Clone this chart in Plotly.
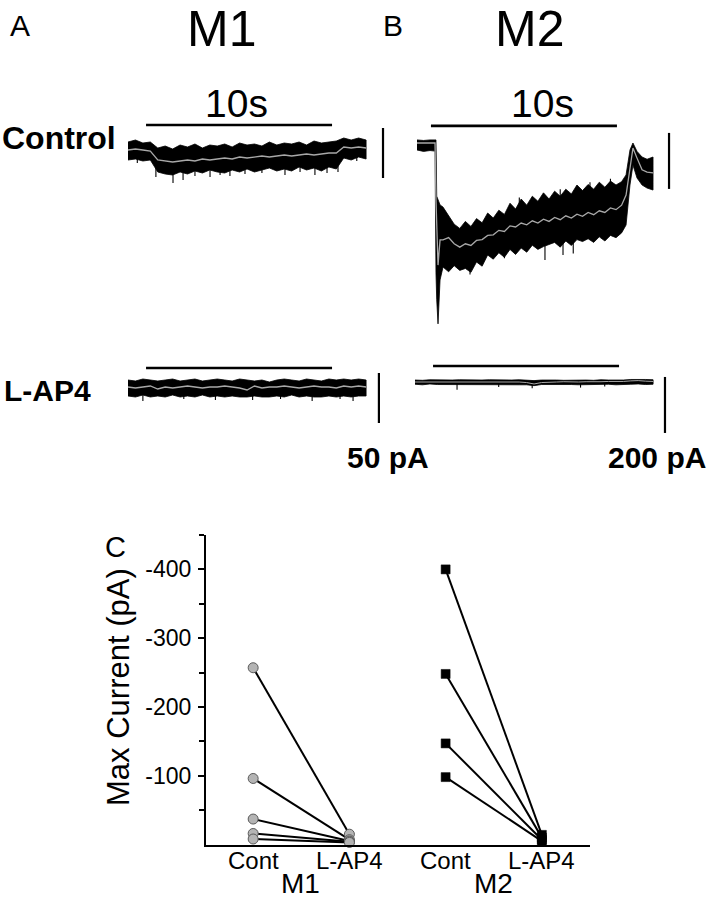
import plotly.graph_objects as go

W, H = 707, 900
FONT = "Liberation Sans, Arial, sans-serif"

# ---------------- Panel C data ----------------
categories = ["Cont", "L-AP4", "Cont", "L-AP4"]
cat_pos = [0, 1, 2, 3]
group_labels = ["M1", "M2"]
m1_cont = [-257, -96, -37, -16, -8]
m1_lap4 = [-15, -7, -5, -4, -3]
m2_cont = [-400, -248, -147, -98]
m2_lap4 = [-14, -10, -7, -5]
y_ticks = [-400, -300, -200, -100]
y_minor = [-450, -350, -250, -150, -50]

# ---------------- Trace data (time s, current pA) ----------------
grid_t = [0.0, 0.4, 0.8, 1.2, 1.6, 2.0, 2.4, 2.8, 3.2, 3.6, 4.0, 4.4, 4.8, 5.2, 5.6, 6.0,
          6.4, 6.8, 7.2, 7.6, 8.0, 8.4, 8.8, 9.2, 9.6, 10.0, 10.4, 10.8, 11.2, 11.6, 12.0,
          12.4, 12.8]

m1_ctrl_mean = [0, 1, 0, -1, -10, -11, -12, -11, -10, -11, -9, -10, -9, -8, -9, -7, -8, -7,
                -6, -7, -6, -5, -6, -5, -4, -5, -4, -3, -3, 3, 2, 3, 2]
m1_ctrl_up = [8, 10, 7, 8, 2, 4, 1, 5, 3, 6, 2, 5, 4, 6, 3, 7, 5, 6, 4, 8, 5, 7, 6, 8, 5, 9,
              7, 8, 9, 12, 10, 12, 10]
m1_ctrl_lo = [-10, -9, -11, -10, -22, -24, -25, -22, -24, -21, -23, -20, -22, -23, -20, -22,
              -19, -22, -20, -18, -21, -19, -21, -17, -20, -18, -21, -17, -19, -8, -10, -7, -9]
# noise spikes: time, top, bottom
m1_ctrl_spk_t = [0.5, 1.5, 2.42, 2.96, 3.6, 4.41, 4.95, 5.48, 6.29, 7.2, 8.44, 9.25, 10.05,
                 10.7, 11.29, 12.3]
m1_ctrl_spk_top = [-8, -18, -20, -20, -18, -18, -18, -18, -16, -16, -16, -15, -15, -14, -14, -6]
m1_ctrl_spk_bot = [-13, -27, -33, -30, -26, -27, -25, -26, -24, -23, -25, -22, -25, -23, -22, -11]

m1_lap4_mean = [0, -1, 0, 1, -2, 0, -1, 0, 1, 0, -1, 0, 0, 1, 0, -1, -3, 1, -1, 0, 0, 1, 0,
                -1, 0, 1, 0, 0, -1, 1, 0, 1, 0]
m1_lap4_up = [7, 6, 8, 7, 6, 7, 8, 6, 7, 8, 6, 7, 8, 7, 6, 8, 7, 6, 7, 5, 7, 8, 7, 6, 8, 7,
              6, 8, 7, 8, 7, 8, 7]
m1_lap4_lo = [-9, -10, -8, -10, -9, -10, -8, -10, -9, -10, -8, -10, -9, -10, -9, -10, -10,
              -9, -10, -10, -9, -10, -8, -10, -9, -10, -10, -9, -10, -9, -10, -9, -9]
m1_lap4_spk_t = [0.8, 3.0, 4.7, 6.7, 8.2, 9.9, 11.4, 12.1]
m1_lap4_spk_top = [-6, -6, -6, -6, -6, -6, -6, -6]
m1_lap4_spk_bot = [-14, -12, -13, -13, -12, -14, -12, -14]

m2_ctrl_t = [0.0, 0.35, 0.7, 0.97, 1.02, 1.06, 1.13, 1.24,
             1.4, 1.7, 2.0, 2.3, 2.6, 2.9, 3.2, 3.5, 3.8, 4.1, 4.4, 4.7, 5.0, 5.3, 5.6, 5.9,
             6.2, 6.5, 6.8, 7.1, 7.4, 7.7, 8.0, 8.3, 8.6, 8.9, 9.2, 9.5, 9.8, 10.1, 10.4,
             10.7, 11.0,
             11.24, 11.45, 11.61, 11.83, 12.1, 12.37, 12.69]
m2_ctrl_up = [11, 9, 11, 11, 11, -190, -204, -221,
              -229, -262, -290, -305, -280, -298, -270, -285, -250, -268, -240, -255, -215,
              -236, -200, -222, -190, -208, -178, -200, -172, -190, -165, -182, -150, -170,
              -148, -165, -140, -158, -136, -150, -138,
              -114, -25, 0, -30, -50, -58, -50]
m2_ctrl_lo = [-25, -30, -27, -29, -464, -560, -646, -489,
              -443, -460, -438, -455, -448, -462, -425, -440, -400, -415, -392, -408, -380,
              -398, -375, -390, -365, -380, -370, -362, -355, -372, -350, -366, -345, -352,
              -342, -355, -335, -350, -330, -338, -321,
              -293, -150, -79, -125, -150, -161, -168]
m2_ctrl_mean = [0, 0, 0, 0, -204, -330, -436, -346,
                -346, -338, -360, -372, -360, -366, -348, -345, -330, -328, -312, -316, -296,
                -300, -286, -292, -278, -286, -272, -280, -266, -274, -260, -268, -254, -262,
                -248, -256, -242, -248, -232, -238, -222,
                -186, -79, -18, -54, -96, -104, -107]
m2_ctrl_spk_t = [2.85, 4.7, 6.88, 7.85, 8.4, 5.5, 7.7, 9.3, 10.4]
m2_ctrl_spk_top = [-420, -380, -350, -340, -330, -230, -200, -180, -170]
m2_ctrl_spk_bot = [-470, -412, -418, -400, -395, -195, -165, -140, -128]

m2_lap4_mean = [0, 0, 1, 0, 0, -1, -1, 0, 0, 1, 0, 0, -1, 0, 0, -2, -7, -2, 0, 0, 1, 0, 0, 1,
                0, 1, 2, 1, 2, 4, 5, 3, 2]
m2_lap4_up = [7, 6, 8, 7, 6, 7, 8, 7, 6, 7, 8, 7, 6, 7, 8, 7, 5, 7, 8, 7, 6, 7, 8, 7, 6, 8,
              7, 6, 7, 9, 10, 9, 8]
m2_lap4_lo = [-8, -10, -7, -9, -8, -9, -10, -9, -8, -10, -9, -8, -9, -10, -10, -10, -13,
              -9, -9, -10, -9, -9, -10, -10, -9, -9, -8, -10, -9, -8, -7, -9, -8]
m2_lap4_spk_t = [2.26, 4.5, 6.3, 8.9, 10.2]
m2_lap4_spk_top = [-5, -5, -5, -5, -5]
m2_lap4_spk_bot = [-28, -18, -22, -20, -16]

# stimulus bars (start s, level pA) - 10 s long; scale bars (time s, top pA, length pA)
stim_len = 10
m1_ctrl_bar = (0.97, 25)
m1_lap4_bar = (0.97, 19)
m2_ctrl_bar = (0.75, 61)
m2_lap4_bar = (0.97, 57)
m1_scale = (13.71, 22, 50)
m1_lap4_scale = (13.49, 14, 50)
m2_scale = (13.55, 36, 200)
m2_lap4_scale = (13.44, 18, 200)

fig = go.Figure()


def panel(idx, box, origin, scale):
    L, R, T, B = box
    x0, y0 = origin
    sx, sy = scale
    fig.update_layout({
        f"xaxis{idx}": dict(domain=[L / W, R / W], range=[(L - x0) / sx, (R - x0) / sx],
                            visible=False, anchor=f"y{idx}"),
        f"yaxis{idx}": dict(domain=[1 - B / H, 1 - T / H], range=[(y0 - B) / sy, (y0 - T) / sy],
                            visible=False, anchor=f"x{idx}"),
    })


def recording(idx, t, up, lo, mean, spikes, bar, sbar, thin=False):
    xa, ya = f"x{idx}", f"y{idx}"
    fig.add_trace(go.Scatter(x=list(t) + list(t)[::-1], y=list(up) + list(lo)[::-1],
                             fill="toself", fillcolor="black", mode="lines",
                             line=dict(color="black", width=0.8), xaxis=xa, yaxis=ya,
                             hoverinfo="skip"))
    sx, sy = [], []
    for st, s0, s1 in zip(*spikes):
        sx += [st, st, None]
        sy += [s0, s1, None]
    fig.add_trace(go.Scatter(x=sx, y=sy, mode="lines", line=dict(color="black", width=1.1),
                             xaxis=xa, yaxis=ya, hoverinfo="skip"))
    fig.add_trace(go.Scatter(x=t, y=mean, mode="lines",
                             line=dict(color="#a8a8a8", width=1.0 if thin else 1.3),
                             xaxis=xa, yaxis=ya, hoverinfo="skip"))
    fig.add_trace(go.Scatter(x=[bar[0], bar[0] + stim_len], y=[bar[1], bar[1]], mode="lines",
                             line=dict(color="black", width=2.6), xaxis=xa, yaxis=ya))
    fig.add_trace(go.Scatter(x=[sbar[0], sbar[0]], y=[sbar[1], sbar[1] - sbar[2]], mode="lines",
                             line=dict(color="black", width=2.2), xaxis=xa, yaxis=ya))


panel(2, (110, 400, 108, 200), (128, 150), (18.6, 1.0))
panel(3, (110, 400, 355, 440), (128, 387), (18.6, 1.0))
panel(4, (405, 700, 108, 335), (417, 143), (18.6, 0.28))
panel(5, (405, 700, 355, 445), (415, 382), (18.6, 0.28))

recording(2, grid_t, m1_ctrl_up, m1_ctrl_lo, m1_ctrl_mean,
          (m1_ctrl_spk_t, m1_ctrl_spk_top, m1_ctrl_spk_bot), m1_ctrl_bar, m1_scale)
recording(3, grid_t, m1_lap4_up, m1_lap4_lo, m1_lap4_mean,
          (m1_lap4_spk_t, m1_lap4_spk_top, m1_lap4_spk_bot), m1_lap4_bar, m1_lap4_scale)
recording(4, m2_ctrl_t, m2_ctrl_up, m2_ctrl_lo, m2_ctrl_mean,
          (m2_ctrl_spk_t, m2_ctrl_spk_top, m2_ctrl_spk_bot), m2_ctrl_bar, m2_scale)
recording(5, grid_t, m2_lap4_up, m2_lap4_lo, m2_lap4_mean,
          (m2_lap4_spk_t, m2_lap4_spk_top, m2_lap4_spk_bot), m2_lap4_bar, m2_lap4_scale,
          thin=True)

# ---------------- Panel C ----------------
lx, ly = [], []
for a, b in zip(m1_cont, m1_lap4):
    lx += [cat_pos[0], cat_pos[1], None]
    ly += [a, b, None]
for a, b in zip(m2_cont, m2_lap4):
    lx += [cat_pos[2], cat_pos[3], None]
    ly += [a, b, None]
fig.add_trace(go.Scatter(x=lx, y=ly, mode="lines", line=dict(color="black", width=2),
                         cliponaxis=False))
fig.add_trace(go.Scatter(x=[cat_pos[0]] * len(m1_cont) + [cat_pos[1]] * len(m1_lap4),
                         y=m1_cont + m1_lap4, mode="markers", cliponaxis=False,
                         marker=dict(symbol="circle", size=10, color="#b4b4b4",
                                     line=dict(color="#5a5a5a", width=1))))
fig.add_trace(go.Scatter(x=[cat_pos[2]] * len(m2_cont) + [cat_pos[3]] * len(m2_lap4),
                         y=m2_cont + m2_lap4, mode="markers", cliponaxis=False,
                         marker=dict(symbol="square", size=9, color="black",
                                     line=dict(color="black", width=0.5))))

fig.update_layout(
    xaxis=dict(domain=[206 / W, 590 / W], range=[-0.49, 3.5], showticklabels=False,
               showline=True, linecolor="black", linewidth=2,
               ticks="", showgrid=False, zeroline=False, anchor="y"),
    yaxis=dict(domain=[(H - 844.5) / H, (H - 535) / H], range=[0, -450], tickvals=y_ticks,
               ticktext=[str(v) for v in y_ticks], ticks="outside", ticklen=6, tickwidth=2,
               tickcolor="black", showline=True, linecolor="black", linewidth=2,
               showgrid=False, zeroline=False, ticklabelstandoff=2,
               minor=dict(tickvals=y_minor, ticks="outside", ticklen=5, tickwidth=1.5,
                          tickcolor="black", showgrid=False),
               tickfont=dict(family=FONT, size=23, color="black"), anchor="x"),
)

# category labels under the axis, placed on the data positions
for pos, txt in zip(cat_pos, categories):
    fig.add_annotation(text=txt, x=pos, xref="x", y=1 - 860 / H, yref="paper",
                       showarrow=False, xanchor="center", yanchor="middle",
                       font=dict(family=FONT, size=24, color="black"))


def label(text, px, py, size, bold=False, angle=0):
    fig.add_annotation(text=f"<b>{text}</b>" if bold else text, x=px / W, y=1 - py / H,
                       xref="paper", yref="paper", showarrow=False, textangle=angle,
                       xanchor="center", yanchor="middle",
                       font=dict(family=FONT, size=size, color="black"))


label("A", 20, 26, 30)
label("M1", 221, 29, 50)
label("B", 393, 26, 30)
label("M2", 529, 29, 50)
label("10s", 237, 104, 39)
label("10s", 542, 104, 39)
label("Control", 59, 138, 32, bold=True)
label("L-AP4", 47, 391, 30, bold=True)
label("50 pA", 388, 458, 30, bold=True)
label("200 pA", 657, 458, 30, bold=True)
label("C", 115, 547, 29)
label(group_labels[0], 300, 883, 28)
label(group_labels[1], 493, 883, 28)
label("Max Current (pA)", 118, 687, 31, angle=-90)

fig.update_layout(width=W, height=H, margin=dict(l=0, r=0, t=0, b=0), showlegend=False,
                  paper_bgcolor="white", plot_bgcolor="white")

fig.write_html("out.html", config={"displayModeBar": False},
               post_script="document.body.style.margin='0';")
